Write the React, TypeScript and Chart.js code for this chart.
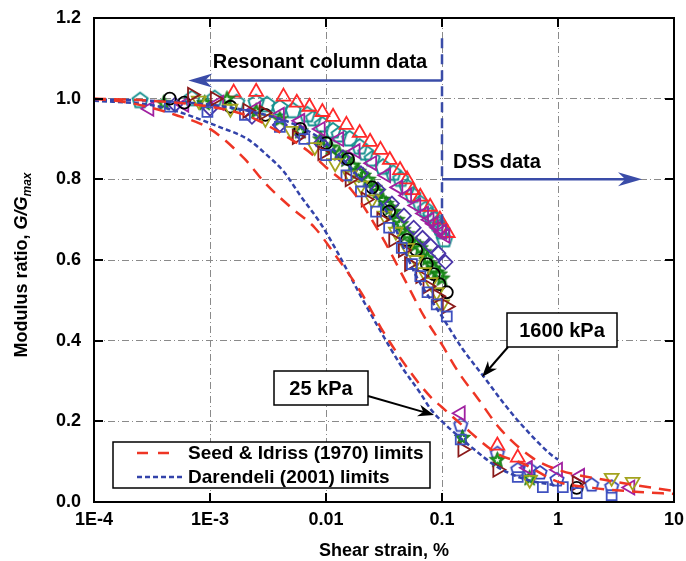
import React, { useEffect, useRef } from 'react';
import { Chart, registerables } from 'chart.js';

Chart.register(...registerables);

type P = [number, number];

// ---- axis ticks ----
const xTickValues = [1e-4, 1e-3, 0.01, 0.1, 1, 10];
const xTickLabels = ['1E-4', '1E-3', '0.01', '0.1', '1', '10'];
const yTickValues = [0, 0.2, 0.4, 0.6, 0.8, 1.0, 1.2];
const yTickLabels = ['0.0', '0.2', '0.4', '0.6', '0.8', '1.0', '1.2'];

// ---- reference curves ----
const seedUpper: P[] = [
  [1e-4, 1.0], [3e-4, 0.995], [1e-3, 0.98], [2e-3, 0.96], [3.8e-3, 0.92], [7e-3, 0.87],
  [0.01, 0.83], [0.017, 0.77], [0.03, 0.66], [0.05, 0.54], [0.07, 0.46], [0.1, 0.39],
  [0.14, 0.32], [0.2, 0.26], [0.32, 0.18], [0.6, 0.11], [1, 0.08], [2.5, 0.055], [10, 0.027],
];
const seedLower: P[] = [
  [1e-4, 1.0], [2e-4, 0.99], [5e-4, 0.96], [1e-3, 0.925], [2e-3, 0.85], [3e-3, 0.79],
  [5e-3, 0.73], [8e-3, 0.68], [0.0115, 0.62], [0.02, 0.52], [0.03, 0.43], [0.054, 0.32],
  [0.08, 0.26], [0.1, 0.235], [0.15, 0.19], [0.3, 0.12], [0.5, 0.095], [1, 0.05],
  [2, 0.035], [5, 0.025], [10, 0.02],
];
const darendeliUpper: P[] = [
  [1e-4, 0.998], [3e-4, 0.995], [1e-3, 0.985], [3e-3, 0.96], [6e-3, 0.93], [0.01, 0.89],
  [0.02, 0.8], [0.028, 0.75], [0.035, 0.71], [0.06, 0.56], [0.1, 0.46], [0.15, 0.38],
  [0.23, 0.31], [0.34, 0.245], [0.47, 0.196], [0.85, 0.12], [1, 0.105],
];
const darendeliLower: P[] = [
  [1e-4, 0.995], [3e-4, 0.985], [5e-4, 0.97], [1.2e-3, 0.93], [2.1e-3, 0.9], [3.1e-3, 0.86],
  [4.3e-3, 0.82], [6e-3, 0.76], [9e-3, 0.69], [0.0125, 0.62], [0.02, 0.51], [0.03, 0.42],
  [0.045, 0.335], [0.065, 0.27], [0.08, 0.23], [0.1, 0.2], [0.19, 0.13], [0.3, 0.087],
  [0.5, 0.058], [1, 0.04],
];

// ---- test data (strain %, G/Gmax) ----
const tealPentagons: P[] = [
  [2.5e-4, 0.995], [7e-4, 1.0], [1.1e-3, 1.0], [1.7e-3, 0.99], [2.5e-3, 0.99], [3.1e-3, 0.985],
  [4e-3, 0.977], [5.2e-3, 0.97], [6.9e-3, 0.96], [7.8e-3, 0.95], [9.3e-3, 0.935], [0.0115, 0.92],
  [0.013, 0.91], [0.016, 0.9], [0.0195, 0.88], [0.022, 0.865], [0.025, 0.85], [0.031, 0.83],
  [0.038, 0.815], [0.044, 0.8], [0.05, 0.78], [0.056, 0.76], [0.065, 0.74], [0.072, 0.725],
  [0.08, 0.71], [0.086, 0.7], [0.091, 0.69], [0.096, 0.68], [0.1, 0.67], [0.105, 0.65],
];
const redTriangles: P[] = [
  [1.6e-3, 1.015], [2.5e-3, 1.017], [4.3e-3, 1.005], [5.6e-3, 0.99], [7.2e-3, 0.98],
  [9.3e-3, 0.967], [0.0115, 0.955], [0.015, 0.935], [0.0195, 0.915], [0.024, 0.893],
  [0.0295, 0.873], [0.0355, 0.848], [0.0435, 0.823], [0.05, 0.8], [0.056, 0.773],
  [0.065, 0.757], [0.079, 0.732], [0.096, 0.7], [0.112, 0.667], [0.3, 0.14], [0.45, 0.11],
];
const purpleLeftTriangles: P[] = [
  [3e-4, 0.975], [6e-4, 0.985], [1.2e-3, 0.99], [2.5e-3, 0.975], [4e-3, 0.96], [6e-3, 0.945],
  [9e-3, 0.925], [0.013, 0.9], [0.018, 0.87], [0.025, 0.84], [0.033, 0.81], [0.042, 0.78],
  [0.05, 0.76], [0.06, 0.735], [0.07, 0.715], [0.078, 0.7], [0.085, 0.69], [0.093, 0.68],
  [0.1, 0.67], [0.107, 0.66], [0.145, 0.22], [0.55, 0.085], [1.0, 0.08], [1.55, 0.065], [4.2, 0.036],
];
const indigoDiamonds: P[] = [
  [5e-4, 0.985], [1e-3, 0.975], [2.3e-3, 0.955], [4e-3, 0.935], [6e-3, 0.915], [9e-3, 0.89],
  [0.014, 0.855], [0.02, 0.815], [0.028, 0.775], [0.037, 0.74], [0.047, 0.71], [0.057, 0.68],
  [0.068, 0.655], [0.08, 0.635], [0.093, 0.617], [0.107, 0.595],
];
const greenStarsA: P[] = [
  [4e-4, 0.99], [9e-4, 0.99], [1.4e-3, 1.0], [2.5e-3, 0.97], [4e-3, 0.95], [6e-3, 0.92],
  [9e-3, 0.9], [0.013, 0.865], [0.017, 0.835], [0.021, 0.81], [0.026, 0.78], [0.031, 0.75],
  [0.036, 0.73], [0.041, 0.7], [0.046, 0.675], [0.056, 0.645], [0.07, 0.62], [0.08, 0.59],
  [0.09, 0.57], [0.1, 0.555], [0.15, 0.16], [0.3, 0.105], [0.57, 0.06],
];
const greenStarsB: P[] = [
  [0.011, 0.88], [0.015, 0.85], [0.019, 0.82], [0.023, 0.8], [0.028, 0.77], [0.033, 0.74],
  [0.038, 0.72], [0.044, 0.69], [0.05, 0.665], [0.06, 0.64], [0.065, 0.63], [0.075, 0.605],
  [0.085, 0.58], [0.095, 0.565],
];
const blackCircles: P[] = [
  [4.5e-4, 1.0], [6e-4, 0.99], [1.5e-3, 0.98], [3e-3, 0.96], [6e-3, 0.925], [0.01, 0.89],
  [0.0155, 0.85], [0.025, 0.78], [0.035, 0.72], [0.05, 0.65], [0.06, 0.625], [0.074, 0.59],
  [0.085, 0.565], [0.095, 0.54], [0.11, 0.52], [1.45, 0.035],
];
const oliveDownTriangles: P[] = [
  [8e-4, 0.995], [1.5e-3, 0.975], [3e-3, 0.95], [5e-3, 0.92], [8e-3, 0.88], [0.012, 0.84],
  [0.016, 0.81], [0.02, 0.785], [0.025, 0.75], [0.032, 0.71], [0.04, 0.67], [0.05, 0.63],
  [0.06, 0.6], [0.07, 0.57], [0.08, 0.545], [0.09, 0.52], [0.1, 0.49], [0.57, 0.055],
  [2.9, 0.06], [4.4, 0.05],
];
const darkRedRightTriangles: P[] = [
  [7e-4, 1.01], [1.1e-3, 1.0], [2.1e-3, 0.97], [2.9e-3, 0.965], [5.6e-3, 0.905], [9.3e-3, 0.865],
  [0.016, 0.8], [0.022, 0.75], [0.03, 0.7], [0.038, 0.65], [0.046, 0.625], [0.052, 0.59],
  [0.065, 0.56], [0.075, 0.535], [0.091, 0.51], [0.11, 0.485], [0.15, 0.13], [0.3, 0.08], [1.45, 0.047],
];
const blueSquares: P[] = [
  [4.5e-4, 0.98], [9.5e-4, 0.967], [2e-3, 0.96], [4e-3, 0.93], [6.5e-3, 0.9], [0.01, 0.86],
  [0.015, 0.81], [0.02, 0.77], [0.027, 0.72], [0.035, 0.68], [0.045, 0.63], [0.055, 0.59],
  [0.065, 0.56], [0.075, 0.52], [0.09, 0.49], [0.11, 0.46], [0.145, 0.155], [0.45, 0.062],
  [0.74, 0.037], [1.1, 0.037], [1.45, 0.022], [2.9, 0.017],
];
const bluePentagons: P[] = [
  [0.145, 0.19], [0.3, 0.12], [0.45, 0.08], [0.57, 0.08], [0.7, 0.072], [0.98, 0.055],
  [1.95, 0.042], [2.9, 0.037],
];

const legendLabels = ['Seed & Idriss (1970) limits', 'Darendeli (2001) limits'];

const FONT = '"Liberation Sans", Arial, Helvetica, sans-serif';
const RED = '#EE3524';
const BLUE = '#3343AA';
const ARROW_BLUE = '#3A4CA8';

function polyCanvas(color: string, r: number, n: number, fill: string | null, lw: number) {
  const s = Math.ceil(r * 2 + 4);
  const c = document.createElement('canvas');
  c.width = s;
  c.height = s;
  const g = c.getContext('2d')!;
  g.beginPath();
  for (let i = 0; i < n; i++) {
    const a = -Math.PI / 2 + (i * 2 * Math.PI) / n;
    const px = s / 2 + r * Math.cos(a);
    const py = s / 2 + r * Math.sin(a);
    if (i === 0) g.moveTo(px, py);
    else g.lineTo(px, py);
  }
  g.closePath();
  if (fill) {
    g.fillStyle = fill;
    g.fill();
  }
  g.strokeStyle = color;
  g.lineWidth = lw;
  g.stroke();
  return c;
}

function starPath(g: CanvasRenderingContext2D, cx: number, cy: number, ro: number, ri: number) {
  g.beginPath();
  for (let i = 0; i < 10; i++) {
    const a = -Math.PI / 2 + (i * Math.PI) / 5;
    const r = i % 2 === 0 ? ro : ri;
    const px = cx + r * Math.cos(a);
    const py = cy + r * Math.sin(a);
    if (i === 0) g.moveTo(px, py);
    else g.lineTo(px, py);
  }
  g.closePath();
}

function starCanvas(color: string, r: number) {
  const s = Math.ceil(r * 2 + 4);
  const c = document.createElement('canvas');
  c.width = s;
  c.height = s;
  const g = c.getContext('2d')!;
  starPath(g, s / 2, s / 2 + 0.5, r, r * 0.45);
  g.fillStyle = color;
  g.fill();
  g.strokeStyle = '#0d6a0d';
  g.lineWidth = 0.8;
  g.stroke();
  starPath(g, s / 2, s / 2 + 0.5, r * 0.35, r * 0.15);
  g.fillStyle = '#ffffff';
  g.fill();
  return c;
}

function drawArrow(
  ctx: CanvasRenderingContext2D, x1: number, y1: number, x2: number, y2: number,
  color: string, lw: number, headLen: number, headHalf: number,
) {
  const ang = Math.atan2(y2 - y1, x2 - x1);
  const cos = Math.cos(ang);
  const sin = Math.sin(ang);
  ctx.save();
  ctx.setLineDash([]);
  ctx.strokeStyle = color;
  ctx.lineWidth = lw;
  ctx.beginPath();
  ctx.moveTo(x1, y1);
  ctx.lineTo(x2 - cos * headLen * 0.6, y2 - sin * headLen * 0.6);
  ctx.stroke();
  const bx = x2 - cos * headLen;
  const by = y2 - sin * headLen;
  const nx = x2 - cos * headLen * 0.7;
  const ny = y2 - sin * headLen * 0.7;
  ctx.fillStyle = color;
  ctx.beginPath();
  ctx.moveTo(x2, y2);
  ctx.lineTo(bx - sin * headHalf, by + cos * headHalf);
  ctx.lineTo(nx, ny);
  ctx.lineTo(bx + sin * headHalf, by - cos * headHalf);
  ctx.closePath();
  ctx.fill();
  ctx.restore();
}

const framePlugin = {
  id: 'frameAndAnnotations',
  afterDraw(chart: any) {
    const ctx: CanvasRenderingContext2D = chart.ctx;
    const { left, right, top, bottom } = chart.chartArea;
    const xs = chart.scales.x;
    const ys = chart.scales.y;
    ctx.save();

    // frame
    ctx.strokeStyle = '#000';
    ctx.lineWidth = 2;
    ctx.setLineDash([]);
    ctx.strokeRect(left, top, right - left, bottom - top);

    // inward ticks
    ctx.lineWidth = 2;
    ctx.beginPath();
    xTickValues.forEach((v) => {
      const px = Math.round(xs.getPixelForValue(v));
      ctx.moveTo(px, bottom);
      ctx.lineTo(px, bottom - 9);
      ctx.moveTo(px, top);
      ctx.lineTo(px, top + 9);
    });
    yTickValues.forEach((v) => {
      const py = Math.round(ys.getPixelForValue(v));
      ctx.moveTo(left, py);
      ctx.lineTo(left + 9, py);
      ctx.moveTo(right, py);
      ctx.lineTo(right - 9, py);
    });
    ctx.stroke();

    // x title
    ctx.fillStyle = '#000';
    ctx.font = `bold 18px ${FONT}`;
    ctx.textAlign = 'center';
    ctx.textBaseline = 'alphabetic';
    ctx.fillText('Shear strain, %', (left + right) / 2, 556);

    // y title (rotated)
    ctx.save();
    ctx.translate(27, (top + bottom) / 2 + 5);
    ctx.rotate(-Math.PI / 2);
    ctx.textAlign = 'left';
    const p1 = 'Modulus ratio, ';
    const p2 = 'G/G';
    const p3 = 'max';
    ctx.font = `bold 18px ${FONT}`;
    const w1 = ctx.measureText(p1).width;
    ctx.font = `italic bold 18px ${FONT}`;
    const w2 = ctx.measureText(p2).width;
    ctx.font = `italic bold 12px ${FONT}`;
    const w3 = ctx.measureText(p3).width;
    let sx = -(w1 + w2 + w3) / 2;
    ctx.font = `bold 18px ${FONT}`;
    ctx.fillText(p1, sx, 0);
    sx += w1;
    ctx.font = `italic bold 18px ${FONT}`;
    ctx.fillText(p2, sx, 0);
    sx += w2;
    ctx.font = `italic bold 12px ${FONT}`;
    ctx.fillText(p3, sx, 4);
    ctx.restore();

    // legend
    ctx.fillStyle = '#fff';
    ctx.fillRect(113, 442, 317, 46);
    ctx.strokeStyle = '#000';
    ctx.lineWidth = 1.5;
    ctx.strokeRect(113, 442, 317, 46);
    ctx.lineWidth = 2.5;
    ctx.strokeStyle = RED;
    ctx.setLineDash([11, 10]);
    ctx.beginPath();
    ctx.moveTo(137, 453);
    ctx.lineTo(172, 453);
    ctx.stroke();
    ctx.strokeStyle = BLUE;
    ctx.setLineDash([5, 3]);
    ctx.beginPath();
    ctx.moveTo(137, 477);
    ctx.lineTo(182, 477);
    ctx.stroke();
    ctx.setLineDash([]);
    ctx.fillStyle = '#000';
    ctx.font = `bold 19px ${FONT}`;
    ctx.textAlign = 'left';
    ctx.textBaseline = 'middle';
    ctx.fillText(legendLabels[0], 188, 454);
    ctx.fillText(legendLabels[1], 188, 478);

    // RC / DSS annotation
    const x01 = xs.getPixelForValue(0.1);
    ctx.strokeStyle = ARROW_BLUE;
    ctx.lineWidth = 2.5;
    ctx.setLineDash([10, 6]);
    ctx.beginPath();
    ctx.moveTo(x01, ys.getPixelForValue(1.15));
    ctx.lineTo(x01, ys.getPixelForValue(0.69));
    ctx.stroke();
    ctx.setLineDash([]);
    drawArrow(ctx, x01, ys.getPixelForValue(1.045), xs.getPixelForValue(6.5e-4), ys.getPixelForValue(1.045), ARROW_BLUE, 2.5, 24, 7);
    drawArrow(ctx, x01, ys.getPixelForValue(0.8), xs.getPixelForValue(5.3), ys.getPixelForValue(0.8), ARROW_BLUE, 2.5, 24, 7);
    ctx.fillStyle = '#000';
    ctx.font = `bold 20px ${FONT}`;
    ctx.textBaseline = 'alphabetic';
    ctx.textAlign = 'center';
    ctx.fillText('Resonant column data', 320, 68);
    ctx.textAlign = 'left';
    ctx.fillText('DSS data', 453, 168);

    // pressure labels
    const box = (x: number, y: number, w: number, h: number, text: string) => {
      ctx.fillStyle = '#fff';
      ctx.fillRect(x, y, w, h);
      ctx.strokeStyle = '#000';
      ctx.lineWidth = 1.5;
      ctx.strokeRect(x, y, w, h);
      ctx.fillStyle = '#000';
      ctx.font = `bold 20px ${FONT}`;
      ctx.textAlign = 'center';
      ctx.textBaseline = 'middle';
      ctx.fillText(text, x + w / 2, y + h / 2 + 1);
    };
    box(507, 313, 110, 34, '1600 kPa');
    drawArrow(ctx, 508, 347, 482, 377, '#000', 2, 16, 6);
    box(274, 371, 94, 34, '25 kPa');
    drawArrow(ctx, 368, 396, 434, 415, '#000', 2, 16, 6);

    ctx.restore();
  },
};

export default function App() {
  const ref = useRef<HTMLCanvasElement>(null);

  useEffect(() => {
    document.body.style.margin = '0';
    const canvas = ref.current!;
    const toXY = (arr: P[]) => arr.map(([x, y]) => ({ x, y }));

    const curve = (data: P[], color: string, dash: number[]) => ({
      data: toXY(data),
      showLine: true,
      borderColor: color,
      borderWidth: 2.5,
      borderDash: dash,
      pointRadius: 0,
      cubicInterpolationMode: 'monotone' as const,
      fill: false,
      order: 0,
    });
    const marks = (data: P[], style: any, color: string, radius: number, rotation = 0) => ({
      data: toXY(data),
      showLine: false,
      pointStyle: style,
      pointRadius: radius,
      pointRotation: rotation,
      pointBorderColor: color,
      pointBackgroundColor: 'rgba(0,0,0,0)',
      pointBorderWidth: 1.8,
      order: 1,
    });

    const tealPent = polyCanvas('#17918F', 8, 5, null, 1.9);
    const bluePent = polyCanvas('#3344BB', 7, 5, null, 1.8);
    const greenStar = starCanvas('#1E931E', 8.5);

    const chart = new Chart(canvas, {
      type: 'scatter',
      data: {
        datasets: [
          curve(seedUpper, RED, [12, 8]),
          curve(seedLower, RED, [12, 8]),
          curve(darendeliUpper, BLUE, [5, 3]),
          curve(darendeliLower, BLUE, [5, 3]),
          marks(blueSquares, 'rect', '#3F51C0', 7),
          marks(darkRedRightTriangles, 'triangle', '#8B1A1A', 8, 90),
          marks(oliveDownTriangles, 'triangle', '#A3A31E', 8, 180),
          marks(blackCircles, 'circle', '#000000', 6),
          marks(indigoDiamonds, 'rectRot', '#4B36A8', 7),
          marks(purpleLeftTriangles, 'triangle', '#A020A0', 8, -90),
          marks(greenStarsB, greenStar, '#1E931E', 8),
          marks(greenStarsA, greenStar, '#1E931E', 8),
          marks(redTriangles, 'triangle', '#FF2A2A', 8),
          marks(tealPentagons, tealPent, '#17918F', 8),
          marks(bluePentagons, bluePent, '#3344BB', 7),
        ],
      },
      options: {
        responsive: false,
        animation: false,
        events: [],
        layout: { padding: { top: 18, right: 12, left: 0, bottom: 0 } },
        plugins: { legend: { display: false }, tooltip: { enabled: false } },
        scales: {
          x: {
            type: 'logarithmic',
            min: 1e-4,
            max: 10,
            afterBuildTicks: (scale: any) => {
              scale.ticks = xTickValues.map((v) => ({ value: v }));
            },
            afterFit: (scale: any) => {
              scale.height = 59;
              scale.paddingLeft = 0;
              scale.paddingRight = 0;
              scale.paddingTop = 0;
              scale.paddingBottom = 0;
            },
            grid: { color: '#8a8a8a', lineWidth: 1, drawTicks: false },
            border: { display: false, dash: [7, 3, 1, 3] },
            ticks: {
              autoSkip: false,
              maxRotation: 0,
              minRotation: 0,
              padding: 7,
              color: '#000',
              font: { family: FONT, size: 18, weight: 'bold' },
              callback: (v: any) => {
                const i = xTickValues.findIndex((t) => Math.abs(Math.log10(t) - Math.log10(Number(v))) < 1e-6);
                return i >= 0 ? xTickLabels[i] : '';
              },
            },
          },
          y: {
            type: 'linear',
            min: 0,
            max: 1.2,
            afterBuildTicks: (scale: any) => {
              scale.ticks = yTickValues.map((v) => ({ value: v }));
            },
            afterFit: (scale: any) => {
              scale.width = 94;
              scale.paddingLeft = 0;
              scale.paddingRight = 0;
              scale.paddingTop = 0;
              scale.paddingBottom = 0;
            },
            grid: { color: '#8a8a8a', lineWidth: 1, drawTicks: false },
            border: { display: false, dash: [7, 3, 1, 3] },
            ticks: {
              padding: 13,
              color: '#000',
              font: { family: FONT, size: 18, weight: 'bold' },
              callback: (v: any) => {
                const i = yTickValues.findIndex((t) => Math.abs(t - Number(v)) < 1e-6);
                return i >= 0 ? yTickLabels[i] : '';
              },
            },
          },
        },
      } as any,
      plugins: [framePlugin],
    });

    return () => chart.destroy();
  }, []);

  return (
    <div style={{ width: 686, height: 561, background: '#fff' }}>
      <canvas ref={ref} width={686} height={561} style={{ display: 'block' }} />
    </div>
  );
}
